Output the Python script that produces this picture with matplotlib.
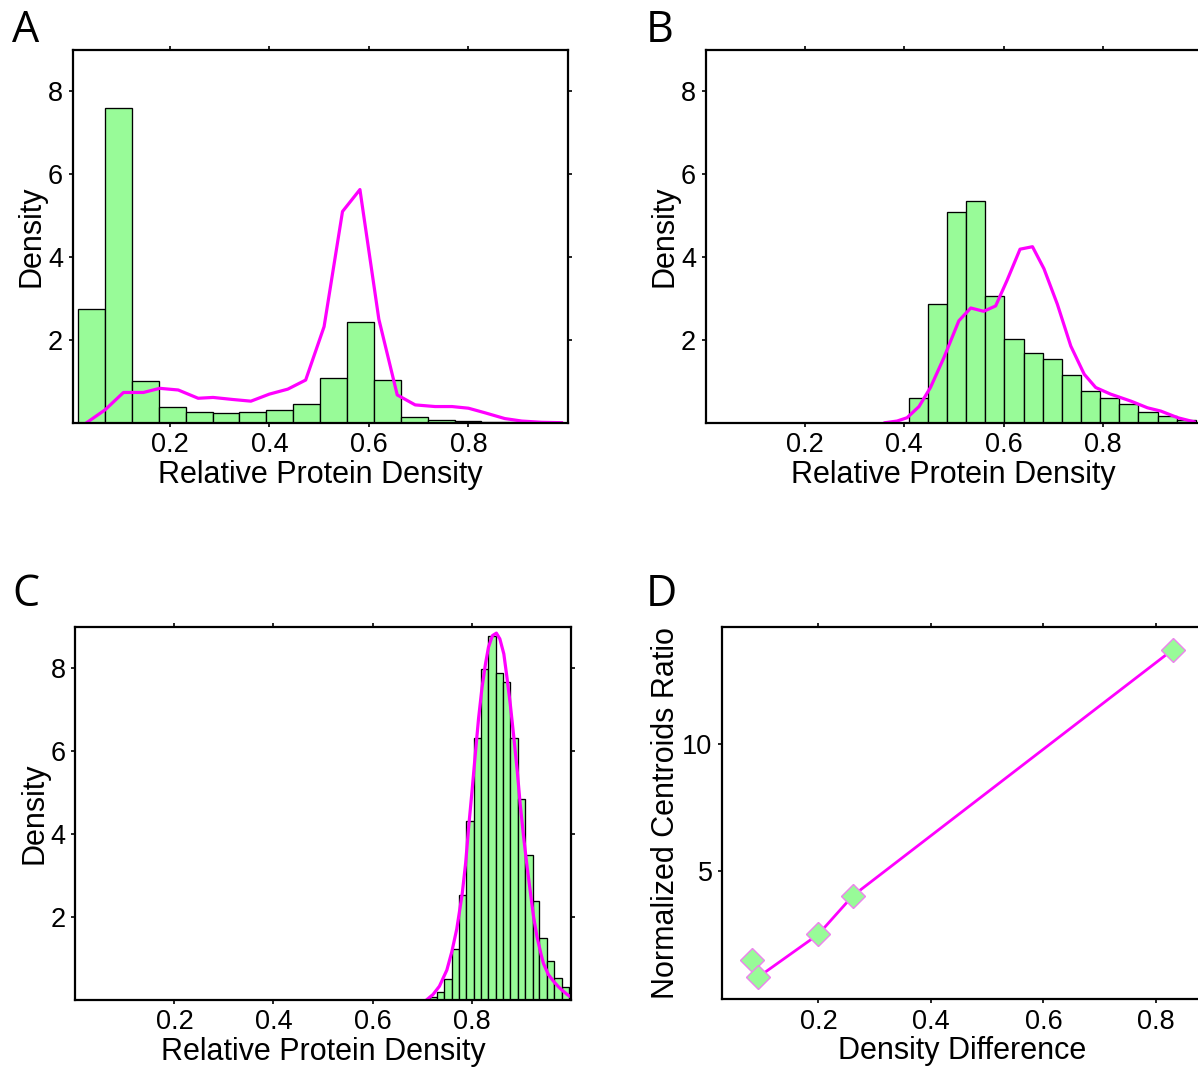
import numpy as np
import matplotlib
matplotlib.use("Agg")
import matplotlib.pyplot as plt

plt.rcParams['font.family'] = ['Liberation Sans', 'DejaVu Sans']

# Panel A: histogram (bin edges + density) and smoothed curve
a_edges = [0.016, 0.070, 0.124, 0.178, 0.232, 0.286, 0.340, 0.394, 0.448, 0.502,
           0.556, 0.610, 0.664, 0.718, 0.772, 0.826, 0.880, 0.934, 0.988]
a_heights = [2.74, 7.61, 1.00, 0.38, 0.27, 0.23, 0.25, 0.31, 0.46, 1.09,
             2.42, 1.02, 0.13, 0.06, 0.03, 0.015, 0.01, 0.005]
a_curve_x = [0.033, 0.070, 0.107, 0.147, 0.180, 0.217, 0.257, 0.287, 0.327, 0.363,
             0.400, 0.437, 0.473, 0.510, 0.547, 0.582, 0.620, 0.657, 0.693, 0.733,
             0.767, 0.800, 0.833, 0.873, 0.907, 0.947, 0.987]
a_curve_y = [0.0, 0.31, 0.73, 0.73, 0.83, 0.79, 0.59, 0.61, 0.56, 0.52,
             0.69, 0.81, 1.03, 2.32, 5.10, 5.63, 2.50, 0.67, 0.43, 0.39,
             0.39, 0.35, 0.24, 0.10, 0.04, 0.01, 0.0]

# Panel B
b_edges = [0.409, 0.4475, 0.486, 0.5245, 0.563, 0.6015, 0.640, 0.6785, 0.717,
           0.7555, 0.794, 0.8325, 0.871, 0.9095, 0.948, 0.9865]
b_heights = [0.60, 2.86, 5.08, 5.35, 3.05, 2.02, 1.68, 1.53, 1.15, 0.77,
             0.60, 0.44, 0.27, 0.15, 0.06]
b_curve_x = [0.362, 0.386, 0.406, 0.430, 0.453, 0.480, 0.510, 0.534, 0.560, 0.584,
             0.607, 0.633, 0.658, 0.681, 0.708, 0.735, 0.762, 0.785, 0.815, 0.856,
             0.889, 0.916, 0.950, 0.983]
b_curve_y = [0.0, 0.04, 0.12, 0.39, 0.85, 1.57, 2.46, 2.77, 2.69, 2.82,
             3.44, 4.19, 4.25, 3.72, 2.86, 1.85, 1.17, 0.85, 0.69, 0.52,
             0.36, 0.28, 0.12, 0.02]

# Panel C
c_edges = [0.715, 0.730, 0.745, 0.760, 0.774, 0.789, 0.804, 0.819, 0.834, 0.849,
           0.863, 0.878, 0.893, 0.908, 0.923, 0.937, 0.952, 0.967, 0.982, 0.997]
c_heights = [0.06, 0.18, 0.50, 1.23, 2.53, 4.31, 6.30, 7.98, 8.76, 7.88,
             7.66, 6.31, 4.84, 3.49, 2.38, 1.49, 0.92, 0.53, 0.31]
c_curve_x = [0.710, 0.722, 0.735, 0.750, 0.760, 0.770, 0.781, 0.788, 0.794, 0.801,
             0.8075, 0.814, 0.821, 0.828, 0.834, 0.842, 0.850, 0.857, 0.865, 0.871,
             0.878, 0.885, 0.892, 0.898, 0.905, 0.912, 0.919, 0.925, 0.932, 0.940,
             0.945, 0.955, 0.966, 0.975, 0.983, 0.992, 0.998]
c_curve_y = [0.0, 0.12, 0.32, 0.71, 1.15, 1.70, 2.55, 3.30, 4.16, 5.05,
             5.93, 6.78, 7.53, 8.10, 8.50, 8.78, 8.84, 8.70, 8.34, 7.80,
             7.13, 6.35, 5.53, 4.72, 3.92, 3.20, 2.55, 2.00, 1.51, 1.10,
             0.87, 0.60, 0.43, 0.31, 0.22, 0.13, 0.08]

# Panel D
d_x = [0.081, 0.092, 0.200, 0.261, 0.830]
d_y = [1.50, 0.81, 2.51, 4.02, 13.70]

hist_yticks = [2, 4, 6, 8]
hist_xticks = [0.2, 0.4, 0.6, 0.8]

W, H = 1198, 1070
fig = plt.figure(figsize=(W / 100, H / 100), dpi=100)

LABEL_FS = 22
TICK_FS = 19.5


def box(l, t, r, b):
    return [l / W, 1 - b / H, (r - l) / W, (b - t) / H]


def style(ax):
    for s in ax.spines.values():
        s.set_linewidth(1.6)
    ax.tick_params(direction='out', length=3, width=1.2, top=True, right=True,
                   labeltop=False, labelright=False, labelsize=TICK_FS, pad=4)


def hist_panel(ax, edges, heights, cx, cy, xlim):
    edges = np.asarray(edges)
    ax.bar(edges[:-1], heights, width=np.diff(edges), align='edge',
           color='#98FB98', edgecolor='black', linewidth=0.95)
    ax.plot(cx, cy, color='#FF00FF', linewidth=2.3)
    ax.set_xlim(*xlim)
    ax.set_ylim(0, 9)
    ax.set_xticks(hist_xticks)
    ax.set_xticklabels(['0.2', '0.4', '0.6', '0.8'])
    ax.set_yticks(hist_yticks)
    ax.set_xlabel('Relative Protein Density', fontsize=LABEL_FS, labelpad=1)
    ax.set_ylabel('Density', fontsize=LABEL_FS, labelpad=1)
    style(ax)


axA = fig.add_axes(box(72.7, 50, 568, 422.7))
hist_panel(axA, a_edges, a_heights, a_curve_x, a_curve_y, (0.005, 1.0))

axB = fig.add_axes(box(705.7, 50, 1201, 422.7))
hist_panel(axB, b_edges, b_heights, b_curve_x, b_curve_y, (0.0014, 0.9966))

axC = fig.add_axes(box(75.3, 626.5, 570.7, 999.5))
hist_panel(axC, c_edges, c_heights, c_curve_x, c_curve_y, (0.0, 1.0))

axD = fig.add_axes(box(722.3, 626.7, 1201, 999.3))
axD.plot(d_x, d_y, color='#FF00FF', linewidth=2.0, marker='D', markersize=12,
         markerfacecolor='#98FB98', markeredgecolor='violet', markeredgewidth=1.0)
axD.set_xlim(0.029, 0.880)
axD.set_ylim(-0.05, 14.6)
axD.set_xticks([0.2, 0.4, 0.6, 0.8])
axD.set_xticklabels(['0.2', '0.4', '0.6', '0.8'])
axD.set_yticks([5, 10])
axD.set_xlabel('Density Difference', fontsize=LABEL_FS, labelpad=1)
axD.set_ylabel('Normalized Centroids Ratio', fontsize=LABEL_FS, labelpad=1)
style(axD)

# panel letters
for letter, x, y in [('A', 12, 41.5), ('B', 646, 41.5), ('C', 12, 606), ('D', 646, 606)]:
    fig.text(x / W, 1 - y / H, letter, fontsize=31, family='Open Sans',
             ha='left', va='baseline')

fig.savefig('out.png', dpi=100)
